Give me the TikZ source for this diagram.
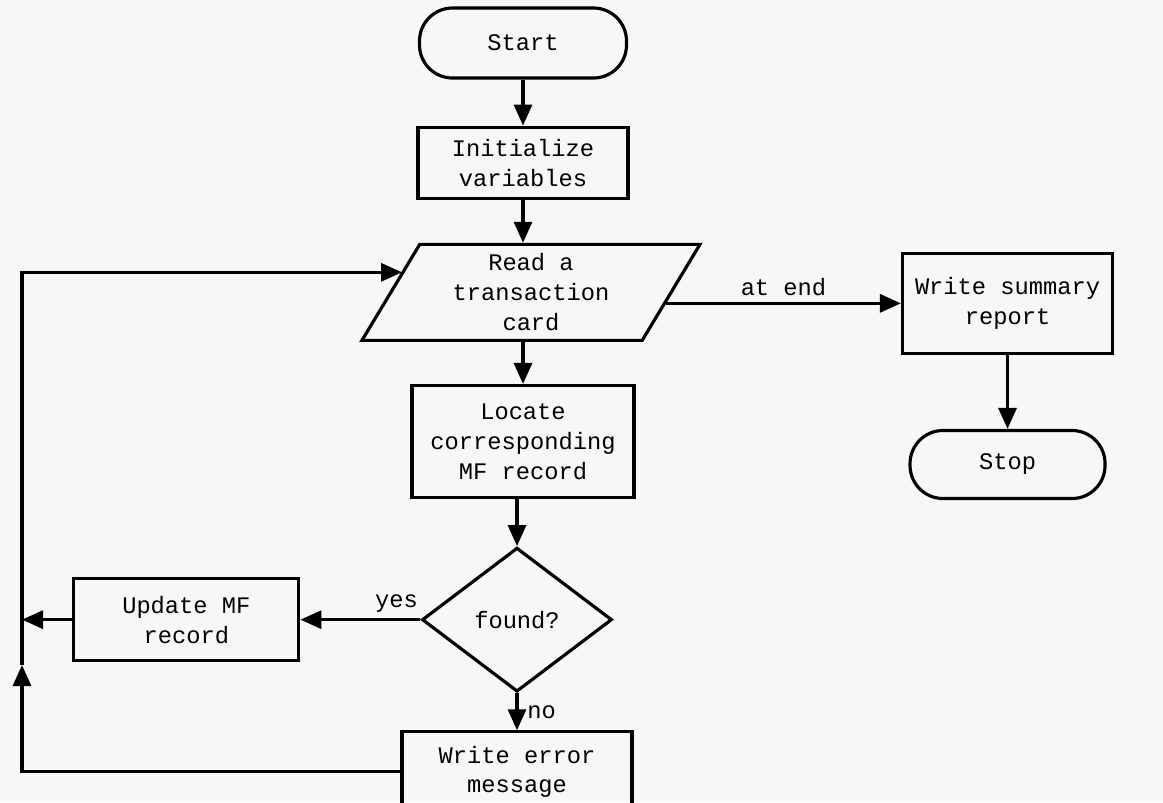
\documentclass[tikz,border=0pt]{standalone}
\usepackage{fontspec}
\setmonofont{Liberation Mono}
\usetikzlibrary{shapes.geometric, arrows.meta, positioning}

\begin{document}
\begin{tikzpicture}[
    node distance=1cm and 1.5cm,
    font=\ttfamily\fontsize{13.5}{17}\selectfont,
    base/.style={draw, line width=1.8pt, align=center, text centered},
    termbox/.style={base, rectangle, rounded corners=0.66cm, minimum width=4.14cm, minimum height=1.4cm},
    procbox/.style={base, rectangle, minimum width=4.2cm, minimum height=1.42cm},
    iobox/.style={base, trapezium, trapezium left angle=57, trapezium right angle=123, trapezium stretches body=true, minimum width=6.76cm, minimum height=1.92cm},
    decbox/.style={base, diamond, minimum width=3.8cm, minimum height=2.88cm, inner sep=0pt},
    arrow/.style={-{Triangle[length=0.42cm, width=0.36cm]}, line width=1.8pt}
]

\useasboundingbox (0,0) rectangle (23.26,-16.04);
\fill[black!3] (0,0) rectangle (23.26,-16.04);

\node[termbox] (start) at (10.46,-0.86) {Start};
\node[procbox, below=0.92cm of start] (init) {Initialize\\variables};
\node[iobox, below=0.86cm of init, xshift=0.16cm] (read) {Read a\\transaction\\card};
\node[procbox, below=0.84cm of read, xshift=-0.16cm, minimum width=4.44cm, minimum height=2.24cm] (locate) {Locate\\corresponding\\MF record};
\node[decbox, below=0.94cm of locate, xshift=-0.12cm] (found) {found?};
\node[procbox, below=0.74cm of found, minimum width=4.6cm, minimum height=1.6cm] (error) {Write error\\message};
\node[procbox, left=2.4cm of found, minimum width=4.5cm, minimum height=1.64cm] (update) {Update MF\\record};
\node[procbox, right=4.56cm of read, yshift=-0.22cm, minimum height=2cm] (summary) {Write summary\\report};
\node[termbox, below=1.48cm of summary, minimum width=3.9cm, minimum height=1.36cm] (stop) {Stop};

% loop back on the left
\coordinate (loop) at (0.44,0);
\coordinate (loopup) at (0.44,-13.3);

\draw[arrow] (start) -- (init);
\draw[arrow] (init.south) -- (init.south |- read.north);
\draw[arrow] (read.south -| init) -- (locate);
\draw[arrow] (locate.south -| found) -- (found);
\draw[arrow] (found) -- node[right, xshift=0.06cm] {no} (error);
\draw[arrow] (found) -- node[above, pos=0.2] {yes} (update);
\draw[arrow] ([shift={(-0.14,-0.22)}]read.east) -- node[above] {at end} (summary.west);
\draw[arrow] (summary) -- (stop);
\draw[arrow] (update) -- (update.west -| loop);
\draw[arrow] (error.west) -| (loopup);
\draw[arrow] (loopup) |- ([shift={(0.26,0.4)}]read.west);

\end{tikzpicture}
\end{document}
